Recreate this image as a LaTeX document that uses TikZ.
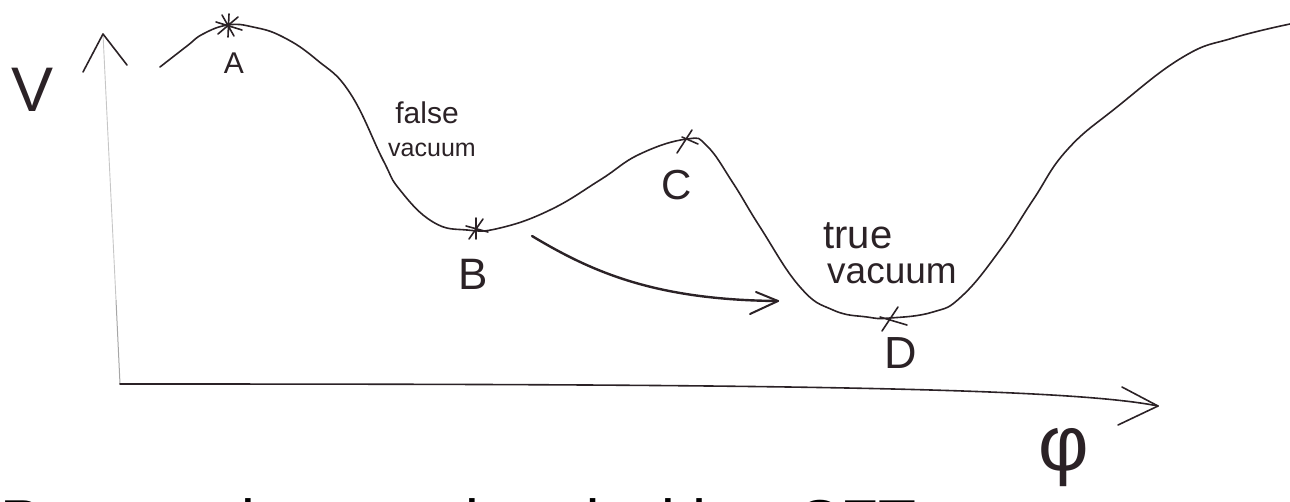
\documentclass[tikz,border=0pt]{standalone}
\usepackage{fontspec}
\setmainfont{Liberation Sans}
\definecolor{inkc}{HTML}{2B2226}
\tikzset{
  ink/.style={draw=inkc, line width=1.6pt, line cap=round, line join=round},
  faint/.style={draw=gray!45, line width=0.9pt},
  lbl/.style={text=inkc, inner sep=0pt},
}
\newcommand{\fs}[1]{\fontsize{#1}{#1}\selectfont}
\begin{document}
\begin{tikzpicture}[x=1pt,y=-1pt]
\useasboundingbox (0,0) rectangle (1290,501);
% axes
\coordinate (o) at (120,384);
\coordinate (ymid) at (116,300);
\coordinate (ytip) at (103,34);
\coordinate (yl) at (83,72);
\coordinate (yr) at (127,65);
\coordinate (xtip) at (1158,406);
\coordinate (xu) at (1122,387);
\coordinate (xd) at (1118,425);
\draw[draw=gray!70, line width=1pt] (o) -- (ymid);
\draw[faint] (ymid) -- (ytip);
\draw[ink] (yl) -- (ytip) -- (yr);
\draw[ink] (o) .. controls (700,384) and (1060,386) .. (xtip);
\draw[ink] (xu) -- (xtip) -- (xd);
\node[lbl, font=\fs{63}] (V) at (33,90) {V};
\node[lbl, font=\fs{78}, anchor=north] (phi) at (1064,428) {φ};
% potential curve
\draw[ink] plot[smooth, tension=0.75] coordinates {
 (160,67) (187,46) (203,34) (228,25) (253,27) (283,37) (317,60) (350,93)
 (383,160) (400,190) (433,222) (467,230) (500,228)
 (550,210) (600,180) (640,154) (687,139) (707,146) (733,183)
 (760,227) (800,287) (833,310) (867,317) (890,318) (933,312)
 (962,296) (1000,250) (1033,200) (1067,150) (1117,107)
 (1183,57) (1233,38) (1290,24)};
% points
\coordinate (A) at (228,25);
\coordinate (B) at (476,229);
\coordinate (C) at (688,140);
\coordinate (D) at (890,318);
\draw[ink] (222,15) -- (234,36) (216,22) -- (242,30) (238,17) -- (218,34) (229,14) -- (228,37);
\draw[ink] (469,239) -- (483,219) (466,226) -- (488,232) (476,218) -- (476,239);
\draw[ink] (692,130) -- (677,153) (682,137) -- (698,144);
\draw[ink] (898,307) -- (882,331) (880,317) -- (907,325);
\node[lbl, font=\fs{30}] (Al) at (234,63) {A};
\node[lbl, font=\fs{44}] (Bl) at (473,274) {B};
\node[lbl, font=\fs{42}] (Cl) at (677,185) {C};
\node[lbl, font=\fs{45}] (Dl) at (901,353) {D};
% texts
\node[lbl, font=\fs{30}] (f1) at (427,113) {false};
\node[lbl, font=\fs{25}] (f2) at (432,150) {vacuum};
\node[lbl, font=\fs{40}] (t1) at (858,236) {true};
\node[lbl, font=\fs{37}] (t2) at (892,274) {vacuum};
% tunnelling arrow
\coordinate (a0) at (532,236);
\coordinate (a1) at (778,301);
\coordinate (au) at (756,292);
\coordinate (ad) at (750,314);
\draw[ink, line width=2.4pt] (a0) .. controls (592,272) and (655,300) .. (a1);
\draw[ink, line width=2pt] (au) -- (a1) -- (ad);
% cut-off caption
\node[anchor=base west, inner sep=0pt, font=\fs{62}] (cap) at (0,543) {Process is associated with a CFT};
\end{tikzpicture}
\end{document}
